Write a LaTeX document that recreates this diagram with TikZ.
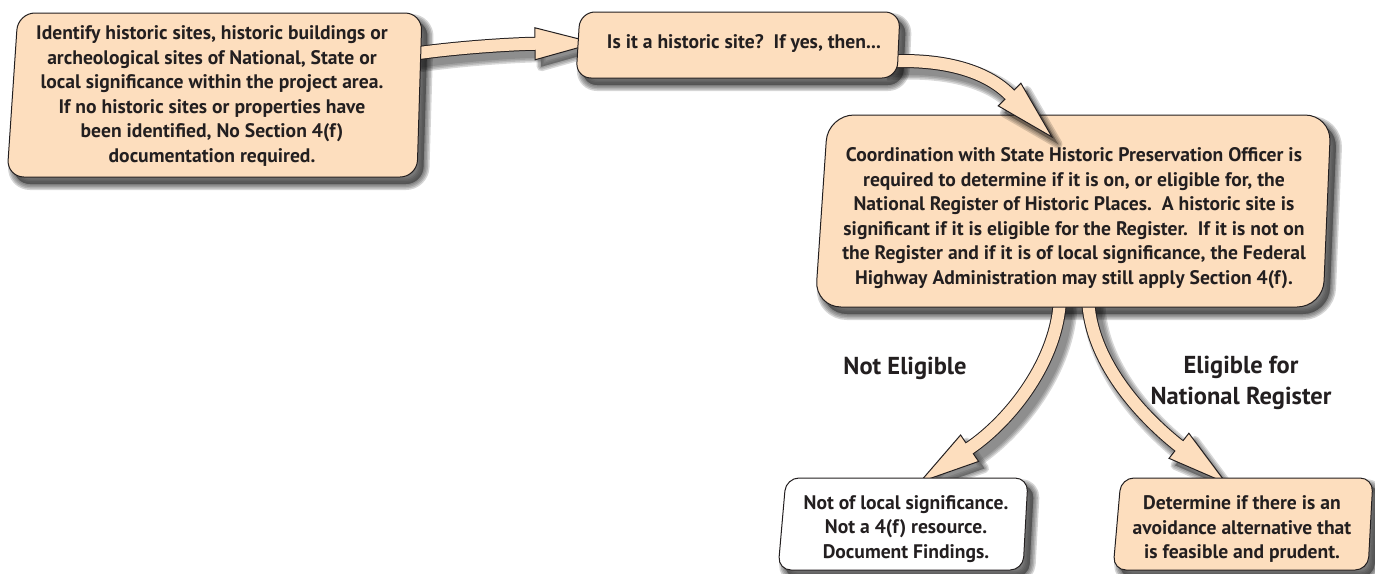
\documentclass[tikz,border=0pt]{standalone}
\usepackage{fontspec}
\setmainfont{PT Sans}
\usetikzlibrary{calc}
\definecolor{peach}{RGB}{253,222,190}
\definecolor{ink}{RGB}{35,31,32}
\tikzset{
  boxtext/.style={align=center, text=ink, font=\fontsize{19.6}{24.5}\selectfont\bfseries, inner sep=0pt},
  labeltext/.style={align=center, text=ink, font=\fontsize{24.5}{31}\selectfont\bfseries, inner sep=0pt},
  boxshape/.style={draw=ink, line width=1pt, rounded corners=#1},
  shadowlayer/.style={fill=black, draw=black, opacity=0.22, line join=round},
}
% soft shadow of a closed path
\newcommand\SoftShadow[1]{%
  \begin{scope}[transform canvas={shift={(6pt,-7pt)}}]
    \begin{scope}[transparency group, opacity=0.75]
      \foreach \w in {0.01,3,6,9,12}{\filldraw[shadowlayer, line width=\w pt] #1;}
    \end{scope}
  \end{scope}}
% block arrow from (Xs) via (Xc1),(Xc2) to tip (Xt)
\newcommand\BlockArrow[1]{%
  \coordinate (#1b) at ($(#1t)!60pt!(#1c2)$);
  \coordinate (#1l) at ($(#1b)!16pt!90:(#1t)$);
  \coordinate (#1r) at ($(#1b)!16pt!-90:(#1t)$);
  \coordinate (#1e) at ($(#1b)!5pt!(#1t)$);
  \begin{scope}[transform canvas={shift={(6pt,-7pt)}}]
    \begin{scope}[transparency group, opacity=0.7]
      \foreach \w/\lw in {0.01/14,3/17,6/20,9/23}{
        \draw[black, opacity=0.22, line width=\lw pt] (#1s) .. controls (#1c1) and (#1c2) .. (#1b);
        \filldraw[shadowlayer, line width=\w pt] (#1t) -- (#1l) -- (#1r) -- cycle;}
    \end{scope}
  \end{scope}
  \draw[ink, line width=14pt] (#1s) .. controls (#1c1) and (#1c2) .. (#1b);
  \filldraw[fill=peach, draw=ink, line width=1pt] (#1t) -- (#1l) -- (#1r) -- cycle;
  \draw[peach, line width=12pt] (#1s) .. controls (#1c1) and (#1c2) .. (#1b) -- (#1e);
}
\begin{document}
\begin{tikzpicture}[x=1pt, y=-1pt]
\useasboundingbox (0,0) rectangle (1375,573);

% box corner coordinates
\coordinate (b1tl) at (18,13);   \coordinate (b1tr) at (422,13);
\coordinate (b1br) at (417,177); \coordinate (b1bl) at (7,177);
\coordinate (b2tl) at (580,12);  \coordinate (b2tr) at (900,12);
\coordinate (b2br) at (897,78);  \coordinate (b2bl) at (576,78);
\coordinate (b3tl) at (828,115); \coordinate (b3tr) at (1331,115);
\coordinate (b3br) at (1323,307);\coordinate (b3bl) at (815,307);
\coordinate (b4tl) at (786,478); \coordinate (b4tr) at (1028,478);
\coordinate (b4br) at (1023,570);\coordinate (b4bl) at (778,570);
\coordinate (b5tl) at (1121,478);\coordinate (b5tr) at (1373,478);
\coordinate (b5br) at (1368,570);\coordinate (b5bl) at (1113,570);

% arrow coordinates
\coordinate (a1s) at (412,54);  \coordinate (a1c1) at (460,47);
\coordinate (a1c2) at (515,44); \coordinate (a1t) at (595,43);
\coordinate (a2s) at (880,62);  \coordinate (a2c1) at (930,58);
\coordinate (a2c2) at (981,66); \coordinate (a2t) at (1052,137);
\coordinate (a3s) at (1060,298); \coordinate (a3c1) at (1058,360);
\coordinate (a3c2) at (1011,420);\coordinate (a3t) at (920,482);
\coordinate (a4s) at (1088,298); \coordinate (a4c1) at (1090,360);
\coordinate (a4c2) at (1140,415);\coordinate (a4t) at (1226,483);

% box 3 with its outgoing arrows
\SoftShadow{[rounded corners=26pt] ($(b3tl)!.5!(b3tr)$) -- (b3tr) -- (b3br) -- (b3bl) -- (b3tl) -- cycle}
\BlockArrow{a3}
\BlockArrow{a4}
\draw[boxshape=26pt, fill=peach] ($(b3tl)!.5!(b3tr)$) -- (b3tr) -- (b3br) -- (b3bl) -- (b3tl) -- cycle;
\node[boxtext] (n3) at (1074,218) {Coordination with State Historic Preservation Officer is\\
required to determine if it is on, or eligible for, the\\
National Register of Historic Places.\ \ A historic site is\\
significant if it is eligible for the Register.\ \ If it is not on\\
the Register and if it is of local significance, the Federal\\
Highway Administration may still apply Section 4(f).};

% boxes 4 and 5
\SoftShadow{[rounded corners=13pt] ($(b4tl)!.5!(b4tr)$) -- (b4tr) -- (b4br) -- (b4bl) -- (b4tl) -- cycle}
\draw[boxshape=13pt, fill=white] ($(b4tl)!.5!(b4tr)$) -- (b4tr) -- (b4br) -- (b4bl) -- (b4tl) -- cycle;
\node[boxtext] (n4) at (906,529) {Not of local significance.\\ Not a 4(f) resource.\\ Document Findings.};
\SoftShadow{[rounded corners=13pt] ($(b5tl)!.5!(b5tr)$) -- (b5tr) -- (b5br) -- (b5bl) -- (b5tl) -- cycle}
\draw[boxshape=13pt, fill=peach] ($(b5tl)!.5!(b5tr)$) -- (b5tr) -- (b5br) -- (b5bl) -- (b5tl) -- cycle;
\node[boxtext] (n5) at (1242,529) {Determine if there is an\\ avoidance alternative that\\ is feasible and prudent.};

% boxes 1 and 2 shadows, then arrows, then boxes
\SoftShadow{[rounded corners=17pt] ($(b1tl)!.5!(b1tr)$) -- (b1tr) -- (b1br) -- (b1bl) -- (b1tl) -- cycle}
\SoftShadow{[rounded corners=15pt] ($(b2tl)!.5!(b2tr)$) -- (b2tr) -- (b2br) -- (b2bl) -- (b2tl) -- cycle}
\BlockArrow{a2}
\BlockArrow{a1}
\draw[boxshape=17pt, fill=peach] ($(b1tl)!.5!(b1tr)$) -- (b1tr) -- (b1br) -- (b1bl) -- (b1tl) -- cycle;
\node[boxtext] (n1) at (212,96) {Identify historic sites, historic buildings or\\
archeological sites of National, State or\\
local significance within the project area.\\
If no historic sites or properties have\\
been identified, No Section 4(f)\\
documentation required.};
\draw[boxshape=15pt, fill=peach] ($(b2tl)!.5!(b2tr)$) -- (b2tr) -- (b2br) -- (b2bl) -- (b2tl) -- cycle;
\node[boxtext] (n2) at (744,44) {Is it a historic site?\ \ If yes, then...};

% branch labels
\node[labeltext] (l1) at (905,368) {Not Eligible};
\node[labeltext] (l2) at (1241,383) {Eligible for\\ National Register};
\end{tikzpicture}
\end{document}
